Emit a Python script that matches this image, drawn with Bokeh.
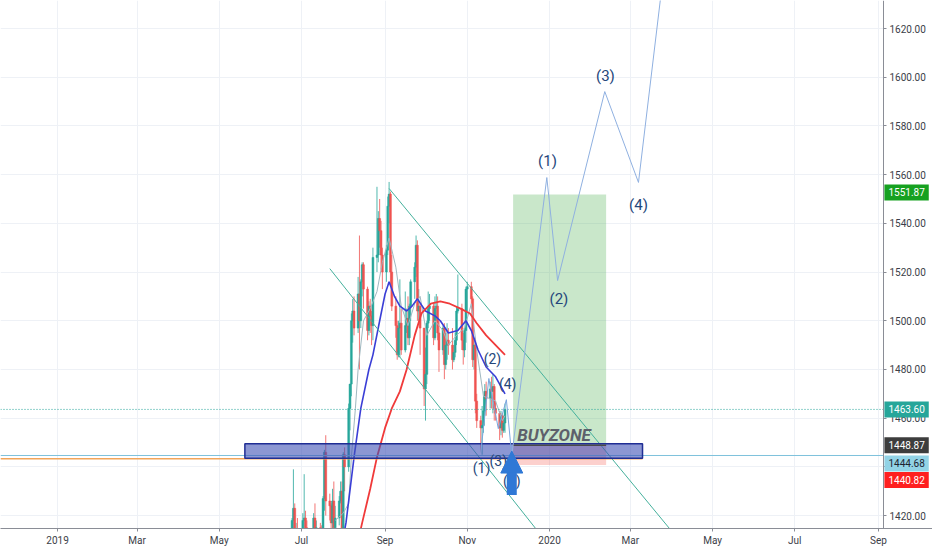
import pandas as pd
from bokeh.plotting import figure
from bokeh.models import (ColumnDataSource, FixedTicker, NumeralTickFormatter,
                          Label, Arrow, NormalHead, Range1d)
from bokeh.core.properties import value
from bokeh.embed import file_html
from bokeh.resources import INLINE

# ---------------- data ----------------
candle_first, candle_last = "2019-06-20", "2019-11-29"   # daily bars, weekdays
candle_open = [1360, 1388, 1400, 1418, 1423, 1408, 1412,
               1400, 1385, 1418, 1419, 1415, 1400, 1396, 1397, 1419, 1404, 1415, 1413, 1406, 1427, 1446,
               1426, 1424, 1417, 1426, 1415, 1419, 1426, 1430,
               1413, 1445, 1440, 1464, 1474, 1500, 1504, 1497, 1511, 1500, 1516, 1523, 1513, 1496, 1506,
               1502, 1498, 1526, 1527, 1542, 1537, 1527,
               1520, 1529, 1547, 1552, 1520, 1506, 1498, 1486, 1497, 1499, 1488, 1498, 1501, 1493, 1506,
               1516, 1522, 1531, 1504, 1506, 1497,
               1472, 1478, 1499, 1505, 1506, 1493, 1505, 1506, 1495, 1488, 1497, 1482, 1490, 1492, 1490,
               1484, 1487, 1492, 1504, 1505, 1492, 1488, 1496,
               1513, 1514, 1509, 1484, 1490, 1467, 1459, 1456, 1457, 1463, 1471, 1468, 1472, 1471, 1473,
               1464, 1462, 1456, 1461, 1455, 1458]
candle_high = [1397, 1411, 1419, 1439, 1425, 1417, 1419,
               1410, 1421, 1437, 1422, 1418, 1403, 1401, 1421, 1425, 1418, 1417, 1416, 1428, 1447, 1453,
               1429, 1425, 1431, 1434, 1424, 1428, 1434, 1434,
               1446, 1448, 1466, 1474, 1503, 1509, 1510, 1518, 1535, 1517, 1524, 1524, 1514, 1508, 1509,
               1504, 1530, 1555, 1545, 1550, 1541, 1530,
               1531, 1551, 1557, 1553, 1527, 1510, 1500, 1500, 1517, 1505, 1512, 1505, 1510, 1507, 1517,
               1524, 1535, 1533, 1513, 1507, 1497,
               1489, 1500, 1512, 1511, 1507, 1510, 1511, 1510, 1500, 1498, 1499, 1495, 1499, 1497, 1497,
               1490, 1495, 1506, 1519, 1507, 1495, 1497, 1514,
               1516, 1516, 1510, 1493, 1493, 1470, 1461, 1465, 1469, 1474, 1475, 1475, 1477, 1478, 1474,
               1467, 1463, 1463, 1462, 1461, 1466]
candle_low = [1358, 1385, 1396, 1411, 1402, 1400, 1400,
              1382, 1381, 1410, 1410, 1388, 1388, 1386, 1394, 1400, 1401, 1407, 1400, 1404, 1422, 1420,
              1418, 1412, 1414, 1412, 1413, 1416, 1425, 1411,
              1400, 1430, 1438, 1455, 1469, 1491, 1494, 1495, 1480, 1497, 1510, 1505, 1492, 1494, 1495,
              1490, 1492, 1520, 1524, 1530, 1521, 1513,
              1516, 1527, 1540, 1515, 1504, 1493, 1484, 1485, 1485, 1486, 1487, 1495, 1490, 1490, 1500,
              1509, 1518, 1500, 1500, 1486, 1465,
              1459, 1474, 1497, 1500, 1490, 1492, 1500, 1492, 1479, 1486, 1476, 1480, 1484, 1486, 1480,
              1483, 1485, 1490, 1503, 1488, 1482, 1485, 1491,
              1504, 1505, 1481, 1480, 1462, 1456, 1446, 1445, 1454, 1461, 1461, 1464, 1464, 1462, 1459,
              1459, 1451, 1453, 1452, 1454, 1454]
candle_close = [1388, 1400, 1418, 1423, 1408, 1412, 1409,
                1385, 1418, 1419, 1415, 1400, 1396, 1397, 1419, 1404, 1415, 1413, 1406, 1427, 1446, 1426,
                1424, 1417, 1426, 1415, 1419, 1426, 1430, 1413,
                1445, 1440, 1464, 1474, 1500, 1504, 1497, 1511, 1500, 1516, 1523, 1513, 1496, 1506, 1502,
                1498, 1526, 1527, 1542, 1537, 1527, 1520,
                1529, 1547, 1552, 1520, 1506, 1498, 1486, 1497, 1499, 1488, 1498, 1501, 1493, 1506, 1516,
                1522, 1531, 1504, 1506, 1497, 1472,
                1478, 1499, 1505, 1506, 1493, 1505, 1506, 1495, 1488, 1497, 1482, 1490, 1492, 1490, 1484,
                1487, 1492, 1504, 1505, 1492, 1488, 1496, 1513,
                1514, 1509, 1484, 1490, 1467, 1459, 1456, 1457, 1463, 1471, 1468, 1472, 1471, 1473, 1464,
                1462, 1456, 1461, 1455, 1458, 1463.6]

fast_ma_dates = ["2019-07-26", "2019-08-01", "2019-08-05", "2019-08-07", "2019-08-10", "2019-08-12",
                 "2019-08-16", "2019-08-21", "2019-08-26", "2019-08-30", "2019-09-04", "2019-09-09",
                 "2019-09-13", "2019-09-18", "2019-09-23", "2019-09-27", "2019-10-02", "2019-10-08",
                 "2019-10-14", "2019-10-18", "2019-10-24", "2019-10-30", "2019-11-04", "2019-11-08",
                 "2019-11-13", "2019-11-18", "2019-11-22", "2019-11-27", "2019-11-29"]
fast_ma_vals = [1418, 1421, 1425, 1444, 1464, 1480, 1500, 1505, 1512, 1524, 1534, 1522, 1506, 1498,
                1507, 1510, 1494, 1500, 1496, 1490, 1494, 1497, 1507, 1488, 1469, 1468, 1467, 1459, 1461]

blue_ma_dates = ["2019-07-31", "2019-08-03", "2019-08-09", "2019-08-14", "2019-08-20", "2019-08-23",
                 "2019-08-28", "2019-09-01", "2019-09-04", "2019-09-08", "2019-09-12", "2019-09-17",
                 "2019-09-21", "2019-09-25", "2019-10-01", "2019-10-08", "2019-10-12", "2019-10-18",
                 "2019-10-25", "2019-10-31", "2019-11-04", "2019-11-09", "2019-11-15", "2019-11-22",
                 "2019-11-29"]
blue_ma_vals = [1408, 1417, 1444, 1464, 1480, 1486, 1500, 1511, 1516, 1510, 1506, 1504, 1506, 1509,
                1504, 1502, 1500, 1495, 1496, 1500, 1496, 1488, 1481, 1477, 1470]

red_ma_dates = ["2019-08-08", "2019-08-15", "2019-08-21", "2019-08-26", "2019-09-01", "2019-09-06",
                "2019-09-12", "2019-09-17", "2019-09-23", "2019-09-28", "2019-10-05", "2019-10-12",
                "2019-10-19", "2019-10-27", "2019-11-03", "2019-11-08", "2019-11-15", "2019-11-22",
                "2019-11-29"]
red_ma_vals = [1400, 1417, 1431, 1444, 1456, 1464, 1471, 1480, 1494, 1503, 1507, 1508, 1507, 1505,
               1503, 1499, 1494, 1490, 1486]

# channel lines
upper_channel_dates = ["2019-09-04", "2020-03-30"]
upper_channel_vals = [1554.3, 1414.7]
lower_channel_dates = ["2019-07-22", "2019-12-23"]
lower_channel_vals = [1521.4, 1413.8]

# Elliott waves
small_wave_dates = ["2019-11-11", "2019-11-17", "2019-11-24", "2019-11-30", "2019-12-04"]
small_wave_vals = [1445.9, 1476.3, 1455.7, 1467.6, 1444.6]
small_wave_labels = ["(1)", "(2)", "(3)", "(4)", "(5)"]
small_label_dates = ["2019-11-11 14:00", "2019-11-19 16:00", "2019-11-24 00:00", "2019-12-01 00:00",
                     "2019-12-04 00:00"]
small_label_vals = [1439.7, 1484.5, 1442.6, 1474.2, 1434.4]

big_wave_dates = ["2019-12-04", "2019-12-30", "2020-01-07", "2020-02-11", "2020-03-07", "2020-03-25"]
big_wave_vals = [1444.6, 1558.8, 1516.5, 1594.1, 1556.8, 1640.0]
big_wave_labels = ["(1)", "(2)", "(3)", "(4)"]
big_label_dates = ["2019-12-30 12:00", "2020-01-08 00:00", "2020-02-11 12:00", "2020-03-07 00:00"]
big_label_vals = [1565.8, 1509.1, 1600.7, 1547.7]

# zones
buy_zone_dates = ["2019-05-20", "2020-03-10"]
buy_zone_vals = [1443.5, 1449.5]
position_dates = ["2019-12-05", "2020-02-12"]
target_price = 1551.87
entry_price = 1448.87
stop_price = 1440.82
last_price = 1463.60
blue_level = 1444.68
orange_level = 1443.3
arrow_date = "2019-12-04"
arrow_from, arrow_to = 1428.5, 1446.5
buyzone_text_date = "2019-12-08"

tag_prices = [1551.87, 1463.60, 1448.87, 1444.68, 1440.82]
tag_fill = ["#16a120", "#26a69a", "#3d3d3d", "#92d3e6", "#ff1f1f"]
tag_text_color = ["white", "white", "white", "#1d2330", "white"]
tag_shift = [2, 0, 0, -8, -15]

x_tick_dates = ["2019-01-01", "2019-03-01", "2019-05-01", "2019-07-01", "2019-09-01", "2019-11-01",
                "2020-01-01", "2020-03-01", "2020-05-01", "2020-07-01", "2020-09-01"]
x_tick_labels = ["2019", "Mar", "May", "Jul", "Sep", "Nov", "2020", "Mar", "May", "Jul", "Sep"]
y_ticks = [1420, 1440, 1460, 1480, 1500, 1520, 1540, 1560, 1580, 1600, 1620]


def ms(s):
    return pd.Timestamp(s).value / 1e6


def dts(lst):
    return [pd.Timestamp(s) for s in lst]


# ---------------- figure ----------------
W, H = 932, 550
BOTTOM_BORDER = 22
x_start = pd.Timestamp("2018-11-19 17:00")
price_axis_at = pd.Timestamp("2020-09-04 17:00")     # where the price scale sits
x_end = pd.Timestamp("2020-10-11 03:00")
y_lo, y_hi = 1414.7, 1631.5
p = figure(width=W, height=H, x_axis_type="datetime", y_axis_location="right",
           x_range=Range1d(x_start, x_end), y_range=Range1d(y_lo, y_hi),
           output_backend="svg", toolbar_location=None,
           min_border_left=0, min_border_top=0, min_border_right=0,
           min_border_bottom=BOTTOM_BORDER)
p.outline_line_color = None
p.background_fill_color = "white"
p.border_fill_color = "white"
p.grid.grid_line_color = "#eef1f6"
p.grid.grid_line_width = 1

p.yaxis.ticker = FixedTicker(ticks=y_ticks)
p.yaxis.formatter = NumeralTickFormatter(format="0.00")
p.yaxis.fixed_location = price_axis_at.value / 1e6
tick_ms = [ms(d) for d in x_tick_dates]
p.xaxis.ticker = FixedTicker(ticks=tick_ms)
p.xaxis.major_label_overrides = {t: lab for t, lab in zip(tick_ms, x_tick_labels)}
for ax in (p.xaxis[0], p.yaxis[0]):
    ax.axis_line_color = "#8a8d96"
    ax.major_tick_line_color = "#8a8d96"
    ax.major_tick_in = 0
    ax.major_tick_out = 3
    ax.minor_tick_line_color = None
    ax.major_label_text_font = "Roboto"
    ax.major_label_text_font_size = "10px"
    ax.major_label_text_color = "#3b3e48"
    ax.major_label_standoff = 3

# candles
cdates = pd.bdate_range(candle_first, candle_last)
cdf = pd.DataFrame({"date": cdates, "open": candle_open, "high": candle_high,
                    "low": candle_low, "close": candle_close})
cdf["top"] = cdf[["open", "close"]].max(axis=1)
cdf["bottom"] = cdf[["open", "close"]].min(axis=1)
cdf["color"] = ["#26a69a" if c >= o else "#ef5350" for o, c in zip(cdf["open"], cdf["close"])]
csrc = ColumnDataSource(cdf)
p.segment(x0="date", y0="high", x1="date", y1="low", color="color", line_width=1,
          line_alpha=0.8, source=csrc)
p.vbar(x="date", top="top", bottom="bottom", width=1.4 * 86400000, fill_color="color",
       line_color="color", line_width=0.5, source=csrc)

# moving averages
p.line(dts(fast_ma_dates), fast_ma_vals, line_color="#9fb8c0", line_width=1)
p.line(dts(blue_ma_dates), blue_ma_vals, line_color="#3a3ed6", line_width=1.6)
p.line(dts(red_ma_dates), red_ma_vals, line_color="#f03a3a", line_width=1.8)

# position boxes
pos_l, pos_r = pd.Timestamp(position_dates[0]), pd.Timestamp(position_dates[1])
p.quad(left=[pos_l], right=[pos_r], bottom=[entry_price], top=[target_price],
       fill_color="#4caf50", fill_alpha=0.3, line_color=None)
p.quad(left=[pos_l], right=[pos_r], bottom=[stop_price], top=[entry_price],
       fill_color="#f44336", fill_alpha=0.25, line_color=None)

# horizontal levels (stop at the price scale)
p.segment(x0=[x_start], y0=[last_price], x1=[price_axis_at], y1=[last_price],
          line_color="#26a69a", line_dash="1 2", line_width=1)
p.segment(x0=[x_start], y0=[blue_level], x1=[price_axis_at], y1=[blue_level],
          line_color="#7fc2dc", line_width=1)
p.segment(x0=[x_start], y0=[orange_level], x1=[pd.Timestamp(buy_zone_dates[1])], y1=[orange_level],
          line_color="#f2a55a", line_width=1.5)

# channel lines
p.line(dts(upper_channel_dates), upper_channel_vals, line_color="#45b09c", line_width=1)
p.line(dts(lower_channel_dates), lower_channel_vals, line_color="#45b09c", line_width=1)

# buy zone
p.quad(left=[pd.Timestamp(buy_zone_dates[0])], right=[pd.Timestamp(buy_zone_dates[1])],
       bottom=[buy_zone_vals[0]], top=[buy_zone_vals[1]],
       fill_color="#3f51b5", fill_alpha=0.6, line_color="#1f2d94", line_width=1.5)
p.segment(x0=[pos_l], y0=[entry_price], x1=[pos_r], y1=[entry_price],
          line_color="#4a4a4a", line_width=1.5)

# waves
p.line(dts(small_wave_dates), small_wave_vals, line_color="#7aa6de", line_width=1)
p.line(dts(big_wave_dates), big_wave_vals, line_color="#8fb0e0", line_width=1)

wave_text_color = "#24467a"
p.text(x=dts(small_label_dates), y=small_label_vals, text=small_wave_labels,
       text_font=value("Roboto"), text_font_size="14px", text_color=wave_text_color,
       text_align="center", text_baseline="middle")
p.text(x=dts(big_label_dates), y=big_label_vals, text=big_wave_labels,
       text_font=value("Roboto"), text_font_size="15px", text_color=wave_text_color,
       text_align="center", text_baseline="middle")

# BUYZONE text
p.text(x=[pd.Timestamp(buyzone_text_date)], y=[entry_price], text=["BUYZONE"],
       text_font=value("Roboto"), text_font_size="17px", text_font_style="bold italic",
       text_color="#5d606b", text_align="left", text_baseline="bottom")

# white backing for the price-scale strip (hides grid right of the scale)
p.quad(left=[price_axis_at], right=[x_end], bottom=[y_lo], top=[y_hi],
       fill_color="white", line_color=None)

# arrow
arrow_color = "#2f78d6"
p.add_layout(Arrow(end=NormalHead(size=22, fill_color=arrow_color, line_color=arrow_color),
                   x_start=ms(arrow_date), y_start=arrow_from, x_end=ms(arrow_date), y_end=arrow_to,
                   line_color=arrow_color, line_width=10))

# right-hand price tags
for price, bg, tc, sh in zip(tag_prices, tag_fill, tag_text_color, tag_shift):
    p.add_layout(Label(x=price_axis_at.value / 1e6, y=price, x_offset=1, y_offset=sh,
                       text=f"{price:.2f}", text_align="left", text_baseline="middle",
                       text_font="Roboto", text_font_size="10px", text_color=tc,
                       background_fill_color=bg, padding=4))

open("out.html", "w").write(file_html(p, INLINE))
